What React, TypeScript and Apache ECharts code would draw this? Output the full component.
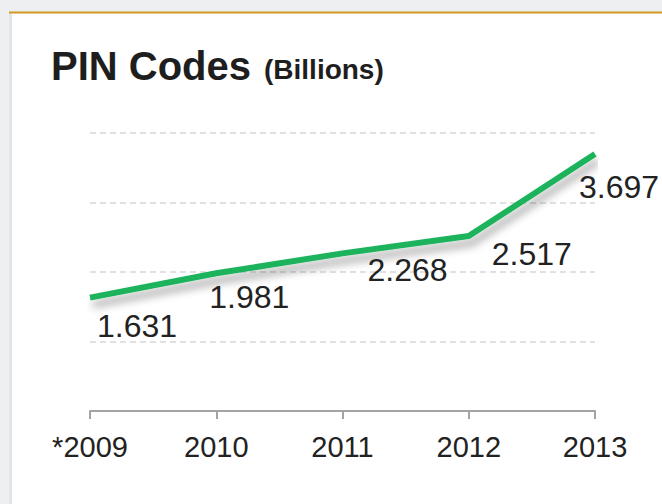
import React, { useEffect, useRef } from "react";
import * as echarts from "echarts";

const categories = ["*2009", "2010", "2011", "2012", "2013"];
const values = [1.631, 1.981, 2.268, 2.517, 3.697];
const valueLabels = ["1.631", "1.981", "2.268", "2.517", "3.697"];
const yTicks = [0, 1, 2, 3, 4];

export default function App() {
  const ref = useRef<HTMLDivElement>(null);
  useEffect(() => {
    if (!ref.current) return;
    const chart = echarts.init(ref.current, null, { renderer: "svg" });
    const labelOffsets = [
      [47, 28],
      [33, 24],
      [65, 17],
      [63, 18],
      [24, 33],
    ];
    chart.setOption({
      animation: false,
      backgroundColor: "#eeeff0",
      graphic: [
        { type: "rect", shape: { x: 9, y: 12, width: 660, height: 500 }, style: { fill: "#e4e5e6" }, z: -10 },
        { type: "rect", shape: { x: 12, y: 13, width: 660, height: 500 }, style: { fill: "#ffffff" }, z: -9 },
        { type: "rect", shape: { x: 9, y: 11.5, width: 660, height: 2 }, style: { fill: "#cf9a22" }, z: -8 },
        {
          type: "text",
          x: 51,
          y: 66,
          style: {
            text: "PIN Codes",
            font: "bold 40px 'Liberation Sans', Arial, sans-serif",
            fill: "#1e1e1e",
            textVerticalAlign: "middle",
          },
        },
        {
          type: "text",
          x: 264,
          y: 69,
          style: {
            text: "(Billions)",
            font: "bold 28px 'Liberation Sans', Arial, sans-serif",
            fill: "#1e1e1e",
            textVerticalAlign: "middle",
          },
        },
      ],
      grid: { left: 90, right: 67, top: 133, bottom: 93, containLabel: false },
      xAxis: {
        type: "category",
        data: categories,
        boundaryGap: false,
        axisLine: { lineStyle: { color: "#a3a3a3", width: 2 } },
        axisTick: { show: true, length: 8, lineStyle: { color: "#a3a3a3", width: 2 }, alignWithLabel: true },
        axisLabel: {
          color: "#222",
          fontSize: 29,
          fontFamily: "'Liberation Sans', Arial, sans-serif",
          margin: 21,
        },
      },
      yAxis: {
        type: "value",
        min: yTicks[0],
        max: yTicks[yTicks.length - 1],
        interval: 1,
        axisLine: { show: false },
        axisTick: { show: false },
        axisLabel: { show: false },
        splitLine: { show: true, lineStyle: { color: "#d8d8d8", type: [6, 4], width: 1.5 } },
      },
      series: [
        {
          type: "line",
          data: values.map((v, i) => ({
            value: v,
            label: {
              show: true,
              position: "inside",
              offset: labelOffsets[i],
              formatter: valueLabels[i],
            },
          })),
          showSymbol: true,
          symbol: "circle",
          symbolSize: 1,
          lineStyle: {
            color: "#1db35c",
            width: 6,
            shadowColor: "rgba(0,0,0,0.35)",
            shadowBlur: 8,
            shadowOffsetX: 3,
            shadowOffsetY: 7,
          },
          itemStyle: { color: "rgba(0,0,0,0)" },
          label: {
            show: true,
            color: "#222",
            fontSize: 32,
            fontFamily: "'Liberation Sans', Arial, sans-serif",
          },
        },
      ],
    });
    return () => chart.dispose();
  }, []);
  return (
    <div
      ref={ref}
      style={{ position: "fixed", left: 0, top: 0, width: 662, height: 504 }}
    />
  );
}
